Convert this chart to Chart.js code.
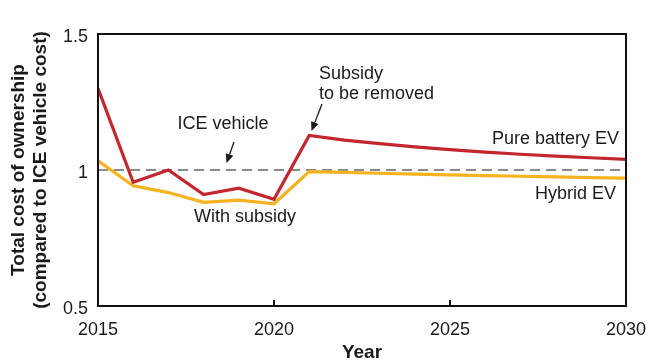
<!DOCTYPE html>
<html>
<head>
<meta charset="utf-8">
<script src="https://cdn.jsdelivr.net/npm/chart.js@4.4.1/dist/chart.umd.min.js"></script>
<style>
  html, body { margin: 0; padding: 0; background: #fff; }
  #wrap { width: 651px; height: 363px; }
</style>
</head>
<body>
<div id="wrap"><canvas id="tcoChart" width="651" height="363"></canvas></div>
<script>
const years = [2015, 2016, 2017, 2018, 2019, 2020, 2021, 2022, 2023, 2024, 2025, 2026, 2027, 2028, 2029, 2030];
const pureBatteryEV = [1.30, 0.955, 1.0, 0.91, 0.933, 0.892, 1.127, 1.11, 1.097, 1.085, 1.075, 1.066, 1.058, 1.051, 1.045, 1.039];
const hybridEV = [1.034, 0.942, 0.917, 0.881, 0.889, 0.876, 0.994, 0.991, 0.988, 0.985, 0.982, 0.979, 0.977, 0.975, 0.972, 0.970];
const iceYears = [2015, 2030];
const iceVehicle = [1, 1];
const xTicks = [2015, 2020, 2025, 2030];
const yTicks = [0.5, 1, 1.5];

const FONT = 'Liberation Sans, Arial, Helvetica, sans-serif';

function toPoints(xs, ys) {
    return xs.map((x, i) => ({ x: x, y: ys[i] }));
}

// frame, inner ticks and the text labels
const decorPlugin = {
    id: 'decor',
    afterDatasetsDraw(chart) {
        const ctx = chart.ctx;
        const a = chart.chartArea;
        const xs = chart.scales.x;
        ctx.save();
        ctx.strokeStyle = '#111';
        ctx.lineWidth = 2;
        ctx.strokeRect(a.left, a.top, a.right - a.left, a.bottom - a.top);
        [2020, 2025].forEach(v => {
            const px = Math.round(xs.getPixelForValue(v));
            ctx.beginPath();
            ctx.moveTo(px, a.bottom);
            ctx.lineTo(px, a.bottom - 6);
            ctx.stroke();
        });

        ctx.fillStyle = '#1a1a1a';
        ctx.font = '18px ' + FONT;
        ctx.textBaseline = 'middle';

        ctx.textAlign = 'center';
        ctx.fillText('ICE vehicle', 223, 124);
        ctx.fillText('With subsidy', 245, 217);
        ctx.textAlign = 'left';
        ctx.fillText('Subsidy', 319, 74);
        ctx.fillText('to be removed', 319, 94);
        ctx.textAlign = 'right';
        ctx.fillText('Pure battery EV', 619, 139);
        ctx.fillText('Hybrid EV', 616, 194);

        function arrow(x1, y1, x2, y2) {
            ctx.strokeStyle = '#1a1a1a';
            ctx.lineWidth = 1.3;
            const ang = Math.atan2(y2 - y1, x2 - x1);
            const hl = 9, hw = 4;
            const bx = x2 - hl * Math.cos(ang), by = y2 - hl * Math.sin(ang);
            ctx.beginPath();
            ctx.moveTo(x1, y1);
            ctx.lineTo(bx, by);
            ctx.stroke();
            ctx.beginPath();
            ctx.moveTo(x2, y2);
            ctx.lineTo(bx + hw * Math.sin(ang), by - hw * Math.cos(ang));
            ctx.lineTo(bx - hw * Math.sin(ang), by + hw * Math.cos(ang));
            ctx.closePath();
            ctx.fill();
        }
        arrow(234, 142, 226.5, 163);
        arrow(322, 104, 311.5, 131);
        ctx.restore();
    }
};

const ctx = document.getElementById('tcoChart').getContext('2d');
new Chart(ctx, {
    type: 'line',
    data: {
        datasets: [
            {
                label: 'Pure battery EV',
                data: toPoints(years, pureBatteryEV),
                borderColor: '#C4262E',
                borderWidth: 3.2,
                pointRadius: 0,
                tension: 0,
                order: 0
            },
            {
                label: 'Hybrid EV',
                data: toPoints(years, hybridEV),
                borderColor: '#F6B21F',
                borderWidth: 3.2,
                pointRadius: 0,
                tension: 0,
                order: 1
            },
            {
                label: 'ICE vehicle',
                data: toPoints(iceYears, iceVehicle),
                borderColor: '#8a8a8a',
                borderWidth: 2,
                borderDash: [10, 6],
                pointRadius: 0,
                order: 2
            }
        ]
    },
    options: {
        responsive: false,
        animation: false,
        layout: { padding: { top: 34, right: 25, left: 0, bottom: 0 } },
        plugins: {
            legend: { display: false },
            tooltip: { enabled: false }
        },
        scales: {
            x: {
                type: 'linear',
                min: 2015,
                max: 2030,
                afterBuildTicks: s => { s.ticks = xTicks.map(v => ({ value: v })); },
                afterFit: s => { s.height = 57; s.paddingLeft = 0; s.paddingRight = 0; },
                grid: { display: false, drawTicks: false },
                border: { display: false },
                ticks: {
                    padding: 13,
                    color: '#1a1a1a',
                    font: { family: FONT, size: 18 },
                    callback: v => String(v)
                },
                title: {
                    display: true,
                    text: 'Year',
                    color: '#1a1a1a',
                    font: { family: FONT, size: 19, weight: 'bold', lineHeight: 1.05 },
                    padding: { top: 0, bottom: 0 }
                }
            },
            y: {
                min: 0.5,
                max: 1.5,
                afterBuildTicks: s => { s.ticks = yTicks.map(v => ({ value: v })); },
                afterFit: s => { s.width = 98; },
                grid: { display: false, drawTicks: false },
                border: { display: false },
                ticks: {
                    padding: 10,
                    labelOffset: 3,
                    color: '#1a1a1a',
                    font: { family: FONT, size: 18 },
                    callback: v => String(v)
                },
                title: {
                    display: true,
                    text: ['Total cost of ownership', '(compared to ICE vehicle cost)'],
                    color: '#1a1a1a',
                    font: { family: FONT, size: 19, weight: 'bold', lineHeight: 1.2 },
                    padding: { top: 7, bottom: 0 }
                }
            }
        }
    },
    plugins: [decorPlugin]
});
</script>
</body>
</html>
